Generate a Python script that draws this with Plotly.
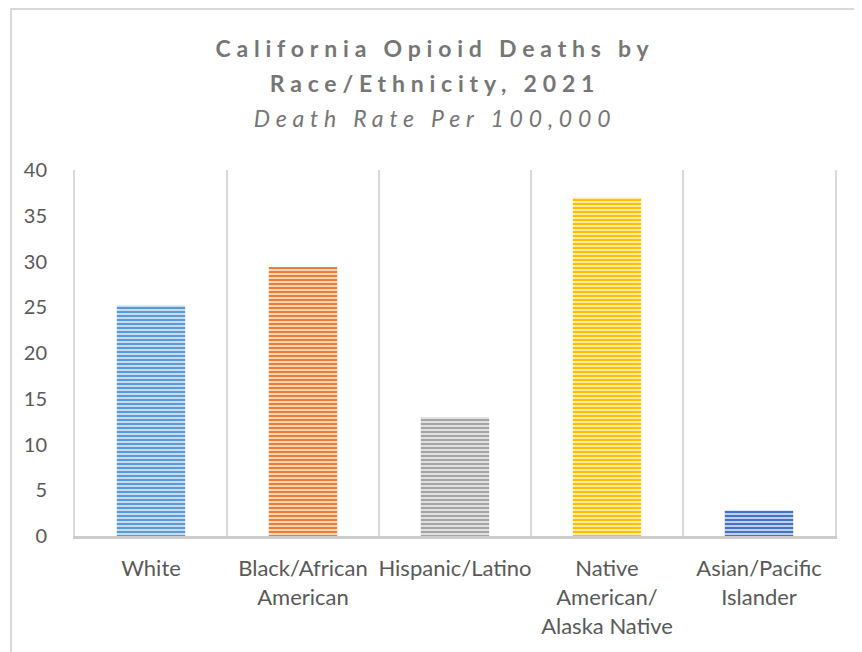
import plotly.graph_objects as go

categories = ["White", "Black/African<br>American", "Hispanic/Latino",
              "Native<br>American/<br>Alaska Native", "Asian/Pacific<br>Islander"]
death_rates = [25.2, 29.4, 13.0, 37.0, 2.8]
line_colors = ["#5b9bd5", "#ed7d31", "#a5a5a5", "#ffc000", "#4472c4"]
fill_colors = ["#c5dcf0", "#f9d3b8", "#e0e0e0", "#ffeaa6", "#bccdeb"]
y_ticks = [0, 5, 10, 15, 20, 25, 30, 35, 40]

# the page body adds an 8px offset; margins below compensate for it
OFF = 8
L, T = 75 - OFF, 170 - OFF
PW, PH = 760, 366

fig = go.Figure()
for cat, val, dark, light in zip(categories, death_rates, line_colors, fill_colors):
    fig.add_trace(go.Bar(
        x=[cat],
        y=[val],
        name=cat,
        marker=dict(
            color=light,
            line=dict(width=0),
            pattern=dict(shape="-", fgcolor=dark, bgcolor=light,
                         size=4, solidity=0.5, fillmode="replace", fgopacity=1),
        ),
        width=0.45,
    ))

TXT = "#595959"
fig.update_layout(
    width=862, height=652,
    barmode="overlay",
    margin=dict(l=L, r=862 - L - PW, t=T, b=652 - T - PH, autoexpand=False),
    paper_bgcolor="white", plot_bgcolor="white",
    font=dict(family="Lato, sans-serif", color=TXT, size=20),
    showlegend=False,
    title=dict(
        text="<span style='font-size:23px'><b>California Opioid Deaths by</b></span><br>"
             "<span style='font-size:23px'><b>Race/Ethnicity, 2021</b></span><br>"
             "<span style='font-size:23px'><i>Death Rate Per 100,000</i></span>",
        font=dict(family="Lato, sans-serif", size=27, color="#767676"),
        x=(435 - OFF) / 862, xref="container", xanchor="center",
        y=1 - (57 - OFF) / 652, yref="container", yanchor="middle",
    ),
    xaxis=dict(
        type="category",
        categoryorder="array", categoryarray=categories,
        tickson="boundaries",
        tickangle=0,
        automargin=False,
        showgrid=True, gridcolor="#d9d9d9", gridwidth=2,
        showline=True, linecolor="#cccccc", linewidth=3,
        ticks="", zeroline=False,
        tickfont=dict(size=22, color=TXT),
        ticklabelstandoff=11,
    ),
    yaxis=dict(
        range=[0, 40],
        tickvals=y_ticks,
        automargin=False,
        showgrid=False, zeroline=False,
        showline=True, linecolor="#d9d9d9", linewidth=2, mirror=True,
        ticks="",
        tickfont=dict(size=20, color=TXT),
        ticklabelstandoff=22,
    ),
    shapes=[dict(type="rect", xref="paper", yref="paper",
                 x0=(11 - 75) / PW, x1=2, y0=-1, y1=(536 - 9) / PH,
                 line=dict(color="#d9d9d9", width=2), fillcolor="rgba(0,0,0,0)",
                 layer="below")],
)

post = """
document.querySelectorAll('.gtitle').forEach(function(e){e.style.letterSpacing='5.8px';});
"""
fig.write_html("out.html", post_script=post)
